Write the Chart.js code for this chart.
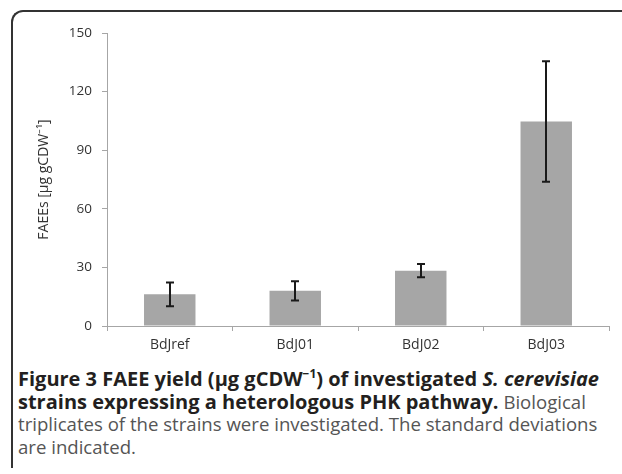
<!DOCTYPE html>
<html>
<head>
<meta charset="utf-8">
<script src="https://cdn.jsdelivr.net/npm/chart.js@4"></script>
<style>
    body { margin: 0; width: 622px; height: 474px; background: #fff; position: relative; overflow: hidden; }
    #frame {
        position: absolute; left: 11px; top: 10px; width: 640px; height: 458px;
        border-top: 2px solid #333; border-left: 2px solid #333;
        border-top-left-radius: 12px; box-sizing: border-box;
    }
    #chartBox { position: absolute; left: 0; top: 0; width: 622px; height: 356px; }
    #caption {
        position: absolute; left: 18px; top: 368px;
        font-family: "Open Sans", sans-serif; font-size: 18.6px; line-height: 22.5px;
        white-space: nowrap; color: #555;
    }
    #caption b { color: #231f20; font-size: 20px; }
    #caption sup { font-size: 12px; line-height: 0; }
</style>
</head>
<body>
<div id="frame"></div>
<div id="chartBox"><canvas id="faeeChart"></canvas></div>
<div id="caption">
    <b>Figure 3 FAEE yield (µg gCDW<sup>−1</sup>) of investigated <i>S. cerevisiae</i></b><br>
    <b>strains expressing a heterologous PHK pathway.</b> Biological<br>
    triplicates of the strains were investigated. The standard deviations<br>
    are indicated.
</div>
<script>
// strains and FAEE yield (µg gCDW-1), mean and standard deviation
const strains = ['BdJref', 'BdJ01', 'BdJ02', 'BdJ03'];
const yieldMean = [16.2, 18.0, 28.3, 104.7];
const yieldSd = [6.1, 4.9, 3.4, 30.9];
const yTicks = [0, 30, 60, 90, 120, 150];

const axisColor = '#a6a6a6';
const textColor = '#333';
const chartFont = 'Open Sans';

// draws the standard deviation whiskers on top of each bar
const errorBarPlugin = {
    id: 'errorBars',
    afterDatasetsDraw(chart) {
        const ctx = chart.ctx;
        const meta = chart.getDatasetMeta(0);
        const yScale = chart.scales.y;
        const cap = 4;
        ctx.save();
        ctx.strokeStyle = '#1a1a1a';
        ctx.lineWidth = 2;
        meta.data.forEach((bar, i) => {
            const top = yScale.getPixelForValue(yieldMean[i] + yieldSd[i]);
            const bottom = yScale.getPixelForValue(yieldMean[i] - yieldSd[i]);
            const x = Math.round(bar.x);
            ctx.beginPath();
            ctx.moveTo(x, top);
            ctx.lineTo(x, bottom);
            ctx.moveTo(x - cap, top);
            ctx.lineTo(x + cap, top);
            ctx.moveTo(x - cap, bottom);
            ctx.lineTo(x + cap, bottom);
            ctx.stroke();
        });
        ctx.restore();
    }
};

const ctx = document.getElementById('faeeChart').getContext('2d');
new Chart(ctx, {
    type: 'bar',
    data: {
        labels: strains,
        datasets: [{
            data: yieldMean,
            backgroundColor: '#a6a6a6',
            borderWidth: 0,
            categoryPercentage: 1,
            barPercentage: 0.41
        }]
    },
    options: {
        responsive: true,
        maintainAspectRatio: false,
        animation: false,
        layout: { padding: { left: 36, right: 13, top: 33, bottom: 0 } },
        plugins: {
            legend: { display: false },
            tooltip: { enabled: false }
        },
        scales: {
            x: {
                grid: {
                    display: true, drawOnChartArea: false, drawTicks: true,
                    tickLength: 5, offset: true, color: axisColor
                },
                border: { color: axisColor },
                ticks: {
                    padding: 6, color: textColor,
                    font: { family: chartFont, size: 14 }
                },
                afterFit(scale) { scale.height = 30; }
            },
            y: {
                min: 0,
                max: 150,
                afterBuildTicks(scale) {
                    scale.ticks = yTicks.map(v => ({ value: v }));
                },
                grid: {
                    display: true, drawOnChartArea: false, drawTicks: true,
                    tickLength: 5, color: axisColor
                },
                border: { color: axisColor },
                ticks: {
                    padding: 10, color: textColor,
                    font: { family: chartFont, size: 13.5 }
                },
                title: {
                    display: true,
                    text: 'FAEEs [µg gCDW⁻¹]',
                    color: textColor,
                    font: { family: chartFont, size: 14 },
                    padding: { top: 0, bottom: 0 }
                },
                afterFit(scale) { scale.width = 71; }
            }
        }
    },
    plugins: [errorBarPlugin]
});
</script>
</body>
</html>
